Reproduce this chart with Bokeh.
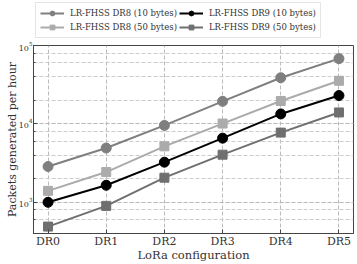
from bokeh.plotting import figure
from bokeh.layouts import column
from bokeh.models import Range1d, FixedTicker, Legend, LegendItem, LogTicker
from bokeh.embed import file_html
from bokeh.resources import INLINE

configs = ["DR0", "DR1", "DR2", "DR3", "DR4", "DR5"]
dr8_10 = [2860, 4920, 9560, 19400, 38800, 68000]
dr8_50 = [1400, 2430, 5170, 10100, 19600, 35500]
dr9_10 = [1000, 1650, 3250, 6580, 13400, 23000]
dr9_50 = [490, 900, 2060, 4050, 7740, 14000]

FONT = "DejaVu Serif"
x = list(range(len(configs)))

series = [
    ("LR-FHSS DR8 (10 bytes)", dr8_10, "#7f7f7f", "circle"),
    ("LR-FHSS DR8 (50 bytes)", dr8_50, "#ababab", "square"),
    ("LR-FHSS DR9 (10 bytes)", dr9_10, "#000000", "circle"),
    ("LR-FHSS DR9 (50 bytes)", dr9_50, "#6f6f6f", "square"),
]

# legend strip
lg = figure(width=357, height=40, x_range=Range1d(0, 1), y_range=Range1d(0, 1),
            output_backend="svg", toolbar_location=None,
            x_axis_location=None, y_axis_location=None,
            min_border_left=31, min_border_right=0, min_border_top=0, min_border_bottom=0)
lg.xgrid.visible = False
lg.ygrid.visible = False
lg.outline_line_color = None

# main plot
p = figure(width=357, height=224, y_axis_type="log",
           x_range=Range1d(-0.25, 5.25), y_range=Range1d(400, 100000),
           output_backend="svg", toolbar_location=None,
           min_border_left=33, min_border_right=4, min_border_top=5, min_border_bottom=28)

items = []
for label, ys, col, mk in series:
    sz = 10 if mk == "circle" else 9
    p.line(x, ys, line_color=col, line_width=2)
    p.scatter(x, ys, marker=mk, size=sz, fill_color=col, line_color=col)
    d1 = lg.line([-10, -9], [-10, -9], line_color=col, line_width=2)
    d2 = lg.scatter([-10], [-10], marker=mk, size=sz, fill_color=col, line_color=col)
    items.append(LegendItem(label=label, renderers=[d1, d2]))

legend = Legend(items=items, ncols=2,
                label_text_font=FONT, label_text_font_size="8.5px",
                label_text_color="#333333",
                glyph_width=24, glyph_height=12, label_height=12,
                spacing=2, padding=4, margin=2, label_standoff=6,
                border_line_color="#cccccc", location="top_left")
legend.item_background_fill_alpha = 0
lg.add_layout(legend, "center")

p.xaxis.ticker = FixedTicker(ticks=x)
p.xaxis.major_label_overrides = {i: c for i, c in enumerate(configs)}
p.yaxis.ticker = LogTicker(desired_num_ticks=3)

for ax in (p.xaxis[0], p.yaxis[0]):
    ax.major_label_text_font = FONT
    ax.axis_label_text_font = FONT
    ax.axis_label_text_font_style = "normal"
    ax.axis_label_text_color = "#333333"
    ax.major_label_text_color = "#333333"
    ax.axis_line_color = "#444444"
    ax.major_tick_line_color = "#444444"
    ax.minor_tick_line_color = "#444444"
    ax.major_tick_in = 4
    ax.major_tick_out = 0
    ax.minor_tick_in = 2
    ax.minor_tick_out = 0
    ax.axis_label_standoff = -3
    ax.major_label_standoff = 1
p.xaxis.axis_label_text_font_size = "11.5px"
p.yaxis.axis_label_text_font_size = "11px"
p.xaxis.major_label_text_font_size = "11px"
p.yaxis.major_label_text_font_size = "8px"
p.xaxis.minor_tick_line_color = None
p.xaxis.axis_label = "LoRa configuration"
p.yaxis.axis_label = "Packets generated per hour"

p.xgrid.grid_line_color = "#bbbbbb"
p.xgrid.grid_line_dash = "4 2"
p.ygrid.grid_line_color = "#bbbbbb"
p.ygrid.grid_line_dash = "4 2"
p.ygrid.minor_grid_line_color = "#cccccc"
p.ygrid.minor_grid_line_dash = "4 2"

p.outline_line_color = "#444444"
p.outline_line_width = 1

layout = column(lg, p, spacing=0)
open("out.html", "w").write(file_html(layout, INLINE))
